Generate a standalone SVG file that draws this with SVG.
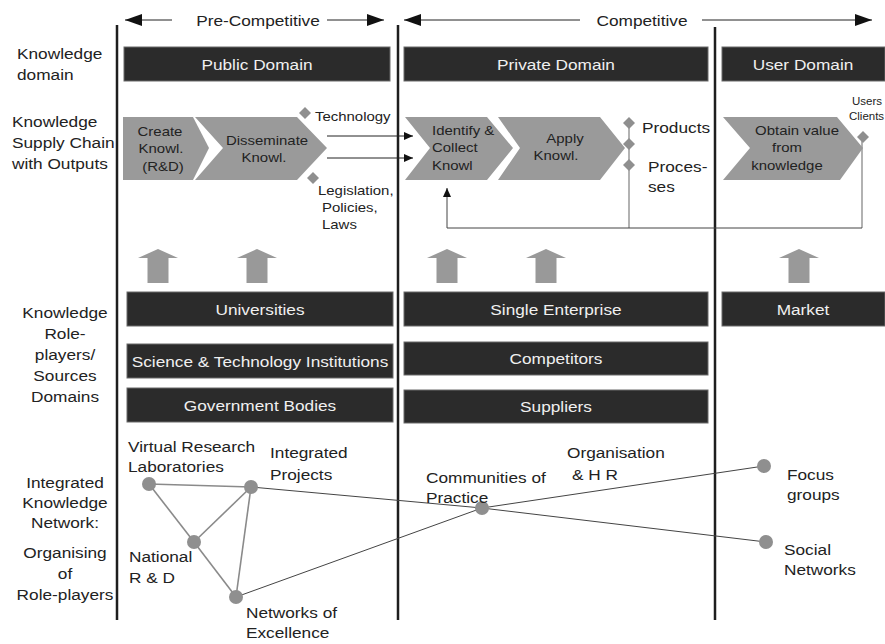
<svg xmlns="http://www.w3.org/2000/svg" width="885" height="644" viewBox="0 0 885 644">
  <style>
    text { font-family: "Liberation Sans", Arial, sans-serif; fill: #222; }
    .lbl { font-size: 15px; }
    .sm { font-size: 13px; }
    .xs { font-size: 10px; }
    .mid { text-anchor: middle; }
    .box { fill: #2b2b2b; stroke: #6a6a6a; stroke-width: 1; }
    .boxt { font-size: 15px; fill: #f0f0f0; text-anchor: middle; }
    .chev { fill: #9a9a9a; }
    .div { stroke: #1e1e1e; stroke-width: 2.5; fill: none; }
    .up { fill: #999; }
    .dia { fill: #8f8f8f; }
    .thin { stroke: #222; stroke-width: 1; fill: none; }
    .gline { stroke: #999; stroke-width: 1.5; fill: none; }
    .edge { stroke: #8a8a8a; stroke-width: 1.6; fill: none; }
    .long { stroke: #444; stroke-width: 1; fill: none; }
    .node { fill: #8f8f8f; }
  </style>
  <defs>
    <marker id="bigHead" viewBox="0 0 17 12" refX="17" refY="6" markerWidth="17" markerHeight="12" markerUnits="userSpaceOnUse" orient="auto">
      <path d="M0,0 L17,6 L0,12 Z" fill="#111"/>
    </marker>
    <marker id="smallHead" viewBox="0 0 9 8" refX="9" refY="4" markerWidth="9" markerHeight="8" markerUnits="userSpaceOnUse" orient="auto">
      <path d="M0,0 L9,4 L0,8 Z" fill="#111"/>
    </marker>
    <path id="upArrow" d="M-20,258 L0,249 L20,258 L10.5,258 L10.5,283 L-10.5,283 L-10.5,258 Z"/>
  </defs>

  <rect width="885" height="644" fill="#fff"/>

  <!-- column dividers -->
  <g id="dividers">
    <line class="div" x1="117" y1="25" x2="117" y2="620"/>
    <line class="div" x1="398" y1="25" x2="398" y2="620"/>
    <line class="div" x1="715" y1="27" x2="715" y2="620"/>
  </g>

  <!-- phase headings with spans -->
  <g id="phase-pre">
    <line class="thin" x1="172" y1="20" x2="125" y2="20" stroke-width="2" marker-end="url(#bigHead)"/>
    <line class="thin" x1="327" y1="20" x2="384" y2="20" stroke-width="2" marker-end="url(#bigHead)"/>
    <text class="lbl mid" transform="translate(258 26) scale(1.15 1)">Pre-Competitive</text>
  </g>
  <g id="phase-competitive">
    <line class="thin" x1="580" y1="20" x2="404" y2="20" stroke-width="2" marker-end="url(#bigHead)"/>
    <line class="thin" x1="702" y1="20" x2="872" y2="20" stroke-width="2" marker-end="url(#bigHead)"/>
    <text class="lbl mid" transform="translate(642 26) scale(1.15 1)">Competitive</text>
  </g>

  <!-- row headings -->
  <g id="row-labels">
    <text class="lbl" transform="translate(17 59) scale(1.15 1)"><tspan x="0">Knowledge</tspan><tspan x="0" dy="21">domain</tspan></text>
    <text class="lbl" transform="translate(12 127) scale(1.15 1)"><tspan x="0">Knowledge</tspan><tspan x="0" dy="21">Supply Chain</tspan><tspan x="0" dy="21">with Outputs</tspan></text>
    <text class="lbl mid" transform="translate(65 318) scale(1.15 1)"><tspan x="0">Knowledge</tspan><tspan x="0" dy="21">Role-</tspan><tspan x="0" dy="21">players/</tspan><tspan x="0" dy="21">Sources</tspan><tspan x="0" dy="21">Domains</tspan></text>
    <text class="lbl mid" transform="translate(65 488) scale(1.15 1)"><tspan x="0">Integrated</tspan><tspan x="0" dy="20">Knowledge</tspan><tspan x="0" dy="20">Network:</tspan></text>
    <text class="lbl mid" transform="translate(65 558) scale(1.15 1)"><tspan x="0">Organising</tspan><tspan x="0" dy="21">of</tspan><tspan x="0" dy="21">Role-players</tspan></text>
  </g>

  <!-- knowledge domains -->
  <g id="public-domain">
    <rect class="box" x="124" y="47" width="266" height="34"/>
    <text class="boxt" transform="translate(257 69.5) scale(1.15 1)">Public Domain</text>
  </g>
  <g id="private-domain">
    <rect class="box" x="404" y="47" width="304" height="34"/>
    <text class="boxt" transform="translate(556 69.5) scale(1.15 1)">Private Domain</text>
  </g>
  <g id="user-domain">
    <rect class="box" x="722" y="47" width="163" height="34"/>
    <text class="boxt" transform="translate(803 69.5) scale(1.15 1)">User Domain</text>
  </g>

  <!-- supply chain steps -->
  <g id="create-knowl">
    <polygon class="chev" points="123,117 193,117 209,148 193,180 123,180"/>
    <text class="sm mid" transform="translate(160 136) scale(1.15 1)">Create</text>
    <text class="sm mid" transform="translate(161 153) scale(1.15 1)">Knowl.</text>
    <text class="sm mid" transform="translate(163 171) scale(1.15 1)">(R&amp;D)</text>
  </g>
  <g id="disseminate-knowl">
    <polygon class="chev" points="195,117 297,117 327,148 297,180 195,180 223,148"/>
    <text class="sm mid" transform="translate(267 145) scale(1.15 1)">Disseminate</text>
    <text class="sm mid" transform="translate(264 162) scale(1.15 1)">Knowl.</text>
  </g>
  <g id="identify-collect">
    <polygon class="chev" points="405,117 487,117 513,148 487,180 405,180 430,148"/>
    <text class="sm" transform="translate(432 135) scale(1.15 1)">Identify &amp;</text>
    <text class="sm" transform="translate(432 152) scale(1.15 1)">Collect</text>
    <text class="sm" transform="translate(432 170) scale(1.15 1)">Knowl</text>
  </g>
  <g id="apply-knowl">
    <polygon class="chev" points="498,117 600,117 625,148 600,180 498,180 520,148"/>
    <text class="sm mid" transform="translate(565 143) scale(1.15 1)">Apply</text>
    <text class="sm mid" transform="translate(556 160) scale(1.15 1)">Knowl.</text>
  </g>
  <g id="obtain-value">
    <polygon class="chev" points="723,117 837,117 863,148 840,180 723,180 750,148"/>
    <text class="sm mid" transform="translate(797 135) scale(1.15 1)">Obtain value</text>
    <text class="sm mid" transform="translate(787 152) scale(1.15 1)">from</text>
    <text class="sm mid" transform="translate(787 170) scale(1.15 1)">knowledge</text>
  </g>

  <!-- outputs -->
  <g id="out-technology">
    <path class="dia" d="M305,107 L311,113 L305,119 L299,113 Z"/>
    <text class="sm" transform="translate(315 121) scale(1.15 1)">Technology</text>
  </g>
  <g id="out-legislation">
    <path class="dia" d="M313,172 L319,178 L313,184 L307,178 Z"/>
    <text class="sm" transform="translate(318 195) scale(1.15 1)">Legislation,</text>
    <text class="sm" transform="translate(322 212) scale(1.15 1)">Policies,</text>
    <text class="sm" transform="translate(322 229) scale(1.15 1)">Laws</text>
  </g>
  <g id="out-products">
    <line class="gline" x1="629" y1="123" x2="629" y2="228"/>
    <path class="dia" d="M629,117 L635,123 L629,129 L623,123 Z"/>
    <path class="dia" d="M629,138 L635,144 L629,150 L623,144 Z"/>
    <path class="dia" d="M629,159 L635,165 L629,171 L623,165 Z"/>
    <text class="lbl" transform="translate(642 133) scale(1.15 1)">Products</text>
    <text class="lbl" transform="translate(648 172) scale(1.15 1)"><tspan x="0">Proces-</tspan><tspan x="0" dy="20">ses</tspan></text>
  </g>
  <g id="out-users">
    <line class="gline" x1="862" y1="138" x2="862" y2="228"/>
    <path class="dia" d="M863,131 L869,137 L863,143 L857,137 Z"/>
    <text class="xs" transform="translate(852 105) scale(1.15 1)">Users</text>
    <text class="xs" transform="translate(849 120) scale(1.15 1)">Clients</text>
  </g>

  <!-- flows in the supply chain -->
  <g id="flows">
    <line class="thin" x1="327" y1="136" x2="413" y2="136" marker-end="url(#smallHead)"/>
    <line class="thin" x1="327" y1="158" x2="413" y2="158" marker-end="url(#smallHead)"/>
    <polyline class="long" points="862,228 447,228 447,188" marker-end="url(#smallHead)"/>
  </g>

  <!-- contributions up into the chain -->
  <g id="up-arrows">
    <use href="#upArrow" class="up" x="158"/>
    <use href="#upArrow" class="up" x="257"/>
    <use href="#upArrow" class="up" x="447"/>
    <use href="#upArrow" class="up" x="546"/>
    <use href="#upArrow" class="up" x="799"/>
  </g>

  <!-- role-players -->
  <g id="universities">
    <rect class="box" x="127" y="292" width="266" height="34"/>
    <text class="boxt" transform="translate(260 314.5) scale(1.15 1)">Universities</text>
  </g>
  <g id="science-technology">
    <rect class="box" x="127" y="344" width="266" height="34"/>
    <text class="boxt" transform="translate(260 366.5) scale(1.15 1)">Science &amp; Technology Institutions</text>
  </g>
  <g id="government">
    <rect class="box" x="127" y="388" width="266" height="34"/>
    <text class="boxt" transform="translate(260 410.5) scale(1.15 1)">Government Bodies</text>
  </g>
  <g id="single-enterprise">
    <rect class="box" x="404" y="292" width="304" height="34"/>
    <text class="boxt" transform="translate(556 314.5) scale(1.15 1)">Single Enterprise</text>
  </g>
  <g id="competitors">
    <rect class="box" x="404" y="342" width="304" height="33"/>
    <text class="boxt" transform="translate(556 364) scale(1.15 1)">Competitors</text>
  </g>
  <g id="suppliers">
    <rect class="box" x="404" y="390" width="304" height="33"/>
    <text class="boxt" transform="translate(556 412) scale(1.15 1)">Suppliers</text>
  </g>
  <g id="market">
    <rect class="box" x="722" y="292" width="163" height="34"/>
    <text class="boxt" transform="translate(803 314.5) scale(1.15 1)">Market</text>
  </g>

  <!-- network links -->
  <g id="connectors">
    <line class="edge" x1="149" y1="484" x2="251" y2="487"/>
    <line class="edge" x1="149" y1="484" x2="194" y2="542"/>
    <line class="edge" x1="194" y1="542" x2="251" y2="487"/>
    <line class="edge" x1="194" y1="542" x2="236" y2="597"/>
    <line class="edge" x1="251" y1="487" x2="236" y2="597"/>
    <polyline class="long" points="251,487 482,508 766,542"/>
    <polyline class="long" points="236,597 482,508 764,466"/>
  </g>

  <!-- network nodes -->
  <g id="virtual-research-labs">
    <circle class="node" cx="149" cy="484" r="7"/>
    <text class="lbl" transform="translate(128 452) scale(1.15 1)"><tspan x="0">Virtual Research</tspan><tspan x="0" dy="20">Laboratories</tspan></text>
  </g>
  <g id="integrated-projects">
    <circle class="node" cx="251" cy="487" r="7"/>
    <text class="lbl" transform="translate(270 458) scale(1.15 1)"><tspan x="0">Integrated</tspan><tspan x="0" dy="22">Projects</tspan></text>
  </g>
  <g id="national-rd">
    <circle class="node" cx="194" cy="542" r="7"/>
    <text class="lbl" transform="translate(129 562) scale(1.15 1)"><tspan x="0">National</tspan><tspan x="0" dy="21">R &amp; D</tspan></text>
  </g>
  <g id="networks-excellence">
    <circle class="node" cx="236" cy="597" r="7"/>
    <text class="lbl" transform="translate(246 618) scale(1.15 1)"><tspan x="0">Networks of</tspan><tspan x="0" dy="20">Excellence</tspan></text>
  </g>
  <g id="communities-practice">
    <circle class="node" cx="482" cy="508" r="7"/>
    <text class="lbl" transform="translate(426 483) scale(1.15 1)"><tspan x="0">Communities of</tspan><tspan x="0" dy="20">Practice</tspan></text>
  </g>
  <g id="organisation-hr">
    <text class="lbl" transform="translate(567 458) scale(1.15 1)">Organisation</text>
    <text class="lbl" transform="translate(572 480) scale(1.15 1)">&amp; H R</text>
  </g>
  <g id="focus-groups">
    <circle class="node" cx="764" cy="466" r="7"/>
    <text class="lbl" transform="translate(787 480) scale(1.15 1)"><tspan x="0">Focus</tspan><tspan x="0" dy="20">groups</tspan></text>
  </g>
  <g id="social-networks">
    <circle class="node" cx="766" cy="542" r="7"/>
    <text class="lbl" transform="translate(784 555) scale(1.15 1)"><tspan x="0">Social</tspan><tspan x="0" dy="20">Networks</tspan></text>
  </g>
</svg>
